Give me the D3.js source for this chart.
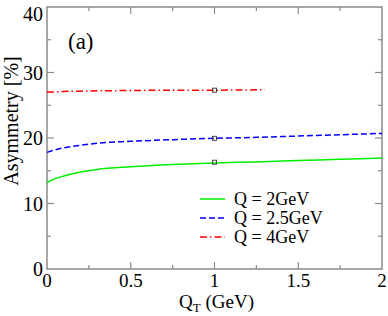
<!DOCTYPE html>
<html>
<head>
<meta charset="utf-8">
<script src="https://cdn.jsdelivr.net/npm/d3@7"></script>
<style>
  body { margin: 0; background: #fff; }
  svg text { font-family: "Liberation Serif", "Times New Roman", "DejaVu Serif", serif; fill: #000; }
</style>
</head>
<body>
<svg id="chart" width="388" height="316"></svg>
<script>
// values
var qt = [0, 0.05, 0.1, 0.2, 0.3, 0.5, 0.75, 1, 1.25, 1.5, 1.75, 2];
var asymQ2 = [13.2, 13.8, 14.2, 14.8, 15.2, 15.6, 15.95, 16.2, 16.35, 16.55, 16.75, 16.95];
var asymQ25 = [17.8, 18.2, 18.5, 18.9, 19.2, 19.5, 19.75, 19.95, 20.1, 20.3, 20.5, 20.7];
var qtQ4 = [0, 0.05, 0.1, 0.2, 0.3, 0.5, 0.75, 1, 1.25, 1.3];
var asymQ4 = [27.0, 27.05, 27.1, 27.15, 27.2, 27.25, 27.3, 27.3, 27.35, 27.35];
var markerQt = [1, 1, 1];
var markerAsym = [16.3, 19.95, 27.3];

var legendLabels = ['Q = 2GeV', 'Q = 2.5GeV', 'Q = 4GeV'];
var xTicks = [0, 0.5, 1, 1.5, 2];
var xMinor = [0.25, 0.75, 1.25, 1.75];
var yTicks = [0, 10, 20, 30, 40];
var yMinor = [5, 15, 25, 35];

var svg = d3.select('#chart');
var plotL = 47, plotR = 382, plotT = 7, plotB = 269;

var x = d3.scaleLinear().domain([0, 2]).range([plotL, plotR]);
var y = d3.scaleLinear().domain([0, 40]).range([plotB, plotT]);

var axisColor = '#8a8a8a';

// frame
svg.append('rect')
    .attr('x', plotL).attr('y', plotT)
    .attr('width', plotR - plotL).attr('height', plotB - plotT)
    .attr('fill', 'none').attr('stroke', axisColor).attr('stroke-width', 1.5);

// ticks pointing inward, on all four sides
function xTickLines(vals, len) {
    var g = svg.append('g').attr('stroke', axisColor).attr('stroke-width', 1.2);
    vals.forEach(function (v) {
        g.append('line').attr('x1', x(v)).attr('x2', x(v)).attr('y1', plotB).attr('y2', plotB - len);
        g.append('line').attr('x1', x(v)).attr('x2', x(v)).attr('y1', plotT).attr('y2', plotT + len);
    });
}
function yTickLines(vals, len) {
    var g = svg.append('g').attr('stroke', axisColor).attr('stroke-width', 1.2);
    vals.forEach(function (v) {
        g.append('line').attr('y1', y(v)).attr('y2', y(v)).attr('x1', plotL).attr('x2', plotL + len);
        g.append('line').attr('y1', y(v)).attr('y2', y(v)).attr('x1', plotR).attr('x2', plotR - len);
    });
}
xTickLines(xTicks.slice(1, -1), 7);
xTickLines(xMinor, 4);
yTickLines(yTicks.slice(1, -1), 7);
yTickLines(yMinor, 4);

// tick labels
svg.append('g').selectAll('text')
    .data(xTicks).enter().append('text')
    .attr('x', function (d) { return x(d); })
    .attr('y', 287)
    .attr('text-anchor', 'middle')
    .attr('font-size', 19)
    .text(function (d) { return d; });

svg.append('g').selectAll('text')
    .data(yTicks).enter().append('text')
    .attr('x', 43)
    .attr('y', function (d) { return d === 40 ? y(d) + 14 : y(d) + 7; })
    .attr('text-anchor', 'end')
    .attr('font-size', 20)
    .text(function (d) { return d; });

// axis titles
var xt = svg.append('text')
    .attr('x', x(1) + 2).attr('y', 308)
    .attr('text-anchor', 'middle')
    .attr('font-size', 19);
xt.append('tspan').text('Q');
xt.append('tspan').attr('font-size', 13).attr('dy', 4).text('T');
xt.append('tspan').attr('dy', -4).text(' (GeV)');

svg.append('text')
    .attr('transform', 'translate(18,' + 121 + ') rotate(-90)')
    .attr('text-anchor', 'middle')
    .attr('font-size', 20)
    .text('Asymmetry [%]');

svg.append('text')
    .attr('x', 68).attr('y', 49)
    .attr('font-size', 23)
    .text('(a)');

// curves
var line = d3.line()
    .x(function (d) { return x(d[0]); })
    .y(function (d) { return y(d[1]); })
    .curve(d3.curveMonotoneX);

var series = [
    { label: legendLabels[0], xs: qt, ys: asymQ2, color: '#00ee00', dash: null },
    { label: legendLabels[1], xs: qt, ys: asymQ25, color: '#0000ff', dash: '6,3' },
    { label: legendLabels[2], xs: qtQ4, ys: asymQ4, color: '#ff0000', dash: '7,3,1.5,3' }
];

series.forEach(function (s) {
    svg.append('path')
        .datum(d3.zip(s.xs, s.ys))
        .attr('d', line)
        .attr('fill', 'none')
        .attr('stroke', s.color)
        .attr('stroke-width', 1.5)
        .attr('stroke-dasharray', s.dash);
});

// open square markers
svg.append('g').selectAll('rect')
    .data(d3.zip(markerQt, markerAsym)).enter().append('rect')
    .attr('x', function (d) { return x(d[0]) - 2; })
    .attr('y', function (d) { return y(d[1]) - 2; })
    .attr('width', 4).attr('height', 4)
    .attr('fill', 'none').attr('stroke', '#444').attr('stroke-width', 1);

// legend
var lg = svg.append('g');
series.forEach(function (s, i) {
    var ly = 199 + i * 19;
    lg.append('line')
        .attr('x1', 200).attr('x2', 225)
        .attr('y1', ly).attr('y2', ly)
        .attr('stroke', s.color).attr('stroke-width', 1.5)
        .attr('stroke-dasharray', s.dash);
    lg.append('text')
        .attr('x', 234).attr('y', ly + 6)
        .attr('font-size', 18)
        .text(s.label);
});
</script>
</body>
</html>
